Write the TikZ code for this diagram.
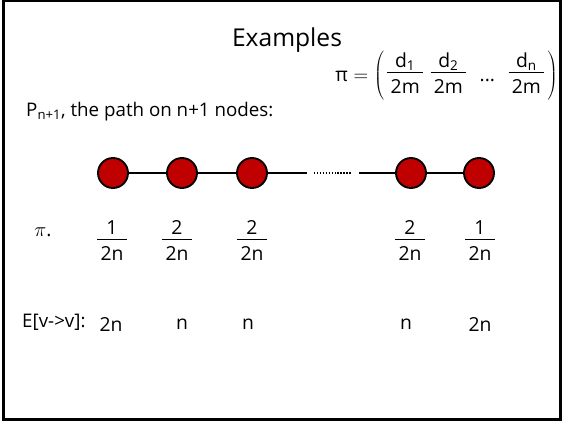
\documentclass[tikz,border=0pt]{standalone}
\usepackage{fontspec}
\setmainfont{Open Sans}
\usetikzlibrary{positioning}

\definecolor{nodered}{RGB}{192,0,0}
\newcommand\stackfrac[2]{\begin{tabular}{@{\,}c@{\,}}#1\\[-2pt]\hline\rule{0pt}{1.05em}#2\end{tabular}}

\begin{document}
\begin{tikzpicture}[
            x=0.03cm, y=-0.03cm,
            vertex/.style={circle, draw, line width=1.6pt, fill=nodered, minimum size=0.9cm, inner sep=0pt},
            edge/.style={line width=1.5pt},
            txt/.style={inner sep=0pt, font=\fontsize{16}{19}\selectfont},
            frac/.style={inner sep=0pt, font=\fontsize{16.5}{19}\selectfont}
        ]
        \useasboundingbox (0,0) rectangle (564,422);
        \draw[line width=2.5pt] (3.5,1) rectangle (560.5,419.5);

        % title and stationary distribution
        \node[inner sep=0pt, font=\fontsize{21}{25}\selectfont] (title) at (287,40) {Examples};
        \node[inner sep=0pt, anchor=east, font=\fontsize{16.5}{19}\selectfont] (pi) at (558,76)
            {$\mbox{π} = \left(\,\vcenter{\hbox{\stackfrac{d\textsubscript{1}}{2m}\hspace{0.4em}\stackfrac{d\textsubscript{2}}{2m}\hspace{0.7em}...\hspace{0.7em}\stackfrac{d\textsubscript{n}}{2m}}}\,\right)$};

        \node[txt, anchor=west] (path) at (26,112) {P\textsubscript{n+1}, the path on n+1 nodes:};

        % the path
        \node[vertex] (v1) at (113,173) {};
        \node[vertex] (v2) at (182,173) {};
        \node[vertex] (v3) at (252,173) {};
        \node[vertex] (v4) at (411,173) {};
        \node[vertex] (v5) at (479,173) {};
        \coordinate (d1) at (307,173);
        \coordinate (d2) at (359,173);

        \draw[edge] (v1) -- (v2);
        \draw[edge] (v2) -- (v3);
        \draw[edge] (v3) -- (d1);
        \draw[line width=1.2pt, dash pattern=on 1.2pt off 1.3pt] (314,173) -- (351,173);
        \draw[edge] (d2) -- (v4);
        \draw[edge] (v4) -- (v5);

        % pi row
        \node[frac] (lpi) at (43,232) {$\pi$.};
        \node[frac] (p1) at (112,243) {\stackfrac{1}{2n}};
        \node[frac] (p2) at (177,243) {\stackfrac{2}{2n}};
        \node[frac] (p3) at (252,243) {\stackfrac{2}{2n}};
        \node[frac] (p4) at (410,243) {\stackfrac{2}{2n}};
        \node[frac] (p5) at (480,243) {\stackfrac{1}{2n}};

        % return times
        \node[txt, anchor=west] (lret) at (22,322) {E[v->v]:};
        \node[frac] (e1) at (111,324) {2n};
        \node[frac] (e2) at (182,324) {n};
        \node[frac] (e3) at (248,324) {n};
        \node[frac] (e4) at (406,324) {n};
        \node[frac] (e5) at (480,324) {2n};
    \end{tikzpicture}
\end{document}
